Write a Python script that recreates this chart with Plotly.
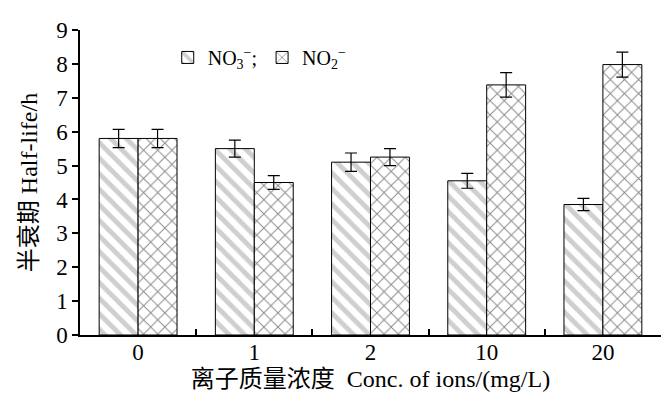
import plotly.graph_objects as go

categories = ["0", "1", "2", "10", "20"]
no3_values = [5.8, 5.5, 5.1, 4.55, 3.85]
no3_errors = [0.27, 0.25, 0.27, 0.22, 0.18]
no2_values = [5.8, 4.5, 5.25, 7.38, 7.98]
no2_errors = [0.27, 0.2, 0.25, 0.36, 0.37]
y_ticks = list(range(0, 10))

FONT = "Liberation Serif, Times New Roman, Noto Sans CJK SC, serif"

fig = go.Figure()
fig.add_trace(go.Bar(
    x=categories, y=no3_values, name="NO<sub>3</sub><sup>−</sup>;",
    marker=dict(color="white", line=dict(color="black", width=1),
                pattern=dict(shape="\\", fgcolor="#a0a0a0", bgcolor="white", size=11, solidity=0.45)),
    error_y=dict(type="data", array=no3_errors, color="black", thickness=1.2, width=6),
))
fig.add_trace(go.Bar(
    x=categories, y=no2_values, name="NO<sub>2</sub><sup>−</sup>",
    marker=dict(color="white", line=dict(color="black", width=1),
                pattern=dict(shape="x", fgcolor="#111111", bgcolor="white", size=10, solidity=0.18)),
    error_y=dict(type="data", array=no2_errors, color="black", thickness=1.2, width=6),
))

# page body has an 8px default margin, so the figure is sized/offset to compensate
fig.update_layout(
    width=661, height=407,
    margin=dict(l=72, r=8, t=22, b=80, autoexpand=False),
    paper_bgcolor="white", plot_bgcolor="white",
    barmode="group", bargap=0.33, bargroupgap=0,
    font=dict(family=FONT, size=23, color="black"),
    showlegend=True,
    legend=dict(orientation="h", x=0.151, y=0.91, xanchor="left", yanchor="middle",
                bgcolor="rgba(0,0,0,0)", font=dict(size=20, family=FONT),
                itemwidth=30, tracegroupgap=0),
)
fig.update_xaxes(
    type="category", showline=True, linecolor="black", linewidth=1.5,
    ticks="inside", tickson="boundaries", ticklen=6, tickcolor="black", tickwidth=1.5,
    showgrid=False, zeroline=False, automargin=False,
    tickfont=dict(size=23, family=FONT), ticklabelstandoff=-4,
    title=dict(text="离子质量浓度\u00a0\u00a0Conc. of ions/(mg/L)", font=dict(size=24, family=FONT), standoff=6),
)
fig.update_yaxes(
    range=[0, 9], tickvals=y_ticks, showline=True, linecolor="black", linewidth=1.5,
    ticks="outside", ticklen=6, tickcolor="black", tickwidth=1.5,
    showgrid=False, zeroline=False, automargin=False,
    tickfont=dict(size=23, family=FONT),
    title=dict(text="半衰期 Half-life/h", font=dict(size=24, family=FONT), standoff=12),
)

fig.write_html("out.html")
